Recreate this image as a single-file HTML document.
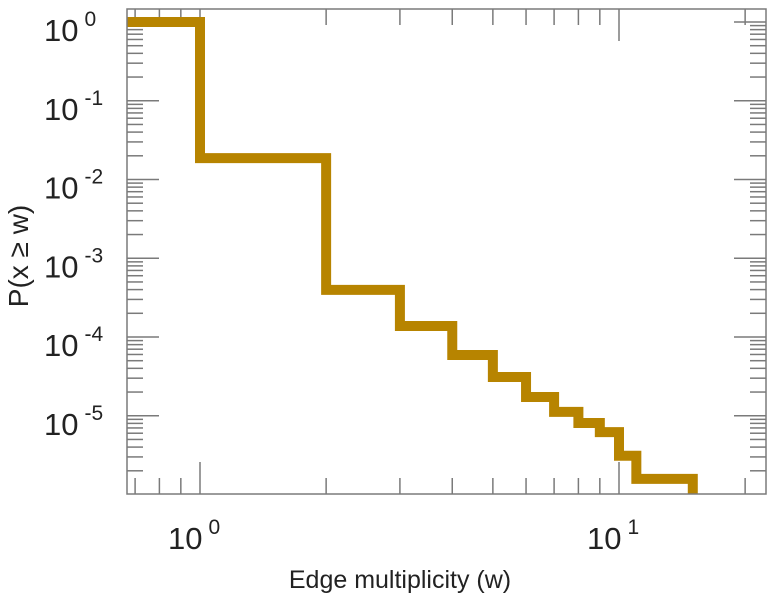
<!DOCTYPE html>
<html><head><meta charset="utf-8"><style>
html,body{margin:0;padding:0;background:#fff;width:768px;height:600px;overflow:hidden}
svg{display:block;font-family:"Liberation Sans",sans-serif}
</style></head><body>
<svg id="chart" width="768" height="600" viewBox="0 0 768 600" xmlns="http://www.w3.org/2000/svg">
<g id="ticks"></g>
<g id="labels"></g>
<path id="series" fill="none" stroke="#b78400" stroke-width="10" stroke-linejoin="miter" stroke-linecap="butt"></path>
<rect x="127" y="9" width="639" height="485" fill="none" stroke="#7a7a7a" stroke-width="1.5"></rect>
<text x="400" y="588" text-anchor="middle" font-size="25" fill="#222">Edge multiplicity (w)</text>
<text x="0" y="0" transform="translate(28,256) rotate(-90)" text-anchor="middle" font-size="28" fill="#222">P(x ≥ w)</text>
</svg>
<script>
const startP = 1;
const stepX = [1, 2, 3, 4, 5, 6, 7, 8, 9, 10, 11, 15];
const stepP = [0.0187, 3.97e-4, 1.38e-4, 5.9e-5, 3.1e-5, 1.73e-5, 1.12e-5, 8.1e-6, 6.2e-6, 3.1e-6, 1.58e-6, 0];
const xTickExp = [0, 1];
const yTickExp = [0, -1, -2, -3, -4, -5];

const L=127,R=766,T=9,B=494;
const xPx = v => 200 + Math.log10(v)*419;
const yPx = v => v>0 ? 22 - Math.log10(v)*78.75 : B;
const xMin = Math.pow(10,(L-200)/419), xMax = Math.pow(10,(R-200)/419);
const NS='http://www.w3.org/2000/svg';
const ticks=document.getElementById('ticks');
const labels=document.getElementById('labels');
function line(x1,y1,x2,y2,name){
  const l=document.createElementNS(NS,'line');
  l.setAttribute('x1',x1);l.setAttribute('y1',y1);l.setAttribute('x2',x2);l.setAttribute('y2',y2);
  l.setAttribute('stroke','#7a7a7a');l.setAttribute('stroke-width','1.5');
  
  
  ticks.appendChild(l);
}
for(let e=-1;e<=1;e++){
  for(let m=1;m<=9;m++){
    const v=m*Math.pow(10,e);
    if(v<xMin||v>xMax) continue;
    const x=xPx(v), len = m===1?32:16;
    line(x,B,x,B-len,'x-tick');
    line(x,T,x,T+len,'x-tick-top');
  }
}
for(let e=0;e>=-6;e--){
  for(let m=1;m<=9;m++){
    const v=m*Math.pow(10,e);
    const y=yPx(v);
    if(y<T||y>B) continue;
    const len = m===1?32:16;
    line(L,y,L+len,y,'y-tick');
    line(R,y,R-len,y,'y-tick-right');
  }
}
function label(x,y,exp,name){
  const t=document.createElementNS(NS,'text');
  t.setAttribute('x',x);t.setAttribute('y',y);t.setAttribute('fill','#222');
  t.setAttribute('font-size','31');
  t.textContent='10';
  const s=document.createElementNS(NS,'tspan');
  s.setAttribute('font-size','21');s.setAttribute('dx','6');s.setAttribute('dy','-15');
  s.textContent=String(exp);
  t.appendChild(s);
  
  
  labels.appendChild(t);
}
xTickExp.forEach(e=>{ label(xPx(Math.pow(10,e))-32,549,e,'x-tick-label'); });
yTickExp.forEach(e=>{
  const y=yPx(Math.pow(10,e));
  label(44, y+19, e, 'y-tick-label');
});
let d='M'+L+' '+yPx(startP);
let prev=startP;
for(let i=0;i<stepX.length;i++){
  const x=xPx(stepX[i]);
  d+=' L'+x+' '+yPx(prev);
  d+=' L'+x+' '+yPx(stepP[i]);
  prev=stepP[i];
}
document.getElementById('series').setAttribute('d',d);
</script>
</body></html>
